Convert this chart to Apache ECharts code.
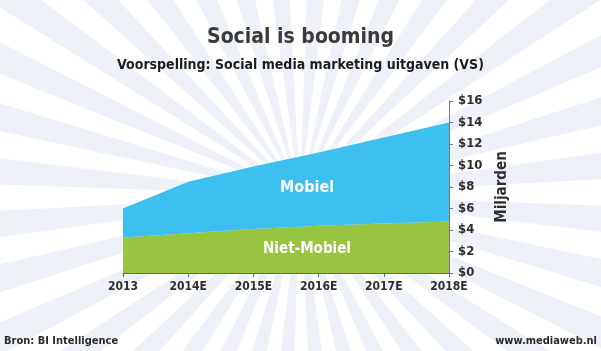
<!DOCTYPE html>
<html>
<head>
<meta charset="utf-8">
<style>
  html, body { margin: 0; padding: 0; background: #fff; }
  #chart { width: 601px; height: 351px; }
</style>
<script src="https://cdn.jsdelivr.net/npm/echarts@6/dist/echarts.min.js"></script>
</head>
<body>
<div id="chart"></div>
<script>
const years = ["2013", "2014E", "2015E", "2016E", "2017E", "2018E"];
const nietMobiel = [3.3, 3.7, 4.1, 4.4, 4.6, 4.8];
const mobiel = [2.7, 4.8, 5.8, 6.8, 8.0, 9.2];
const yTicks = [0, 2, 4, 6, 8, 10, 12, 14, 16];

const font = "'DejaVu Sans Condensed', sans-serif";

// sunburst background rays
function rays(cx, cy) {
  const out = [];
  const r = 900;
  for (let i = 0; i < 36; i++) {
    const a0 = (i * 10 + 2) * Math.PI / 180;
    const a1 = a0 + 5 * Math.PI / 180;
    out.push({
      type: "polygon",
      silent: true,
      z: -10,
      shape: {
        points: [
          [cx, cy],
          [cx + r * Math.cos(a0), cy + r * Math.sin(a0)],
          [cx + r * Math.cos(a1), cy + r * Math.sin(a1)],
        ],
      },
      style: { fill: "#eef2f8" },
    });
  }
  return out;
}

const chart = echarts.init(document.getElementById("chart"));

chart.setOption({
  backgroundColor: "#ffffff",
  animation: false,
  title: [
    {
      text: "Social is booming",
      left: "center",
      top: 22,
      textStyle: { fontFamily: font, fontWeight: "bold", fontSize: 21, color: "#3a3a3a" },
    },
    {
      text: "Voorspelling: Social media marketing uitgaven (VS)",
      left: "center",
      top: 53,
      textStyle: { fontFamily: font, fontWeight: "bold", fontSize: 14, color: "#1c1c1c" },
    },
  ],
  grid: { left: 123, right: 152, top: 101, bottom: 78 },
  xAxis: {
    type: "category",
    data: years,
    boundaryGap: false,
    axisLine: { lineStyle: { color: "#666", width: 1 } },
    axisTick: { length: 4, lineStyle: { color: "#666" } },
    axisLabel: {
      margin: 8,
      fontFamily: font,
      fontWeight: "bold",
      fontSize: 12,
      color: "#2e2e2e",
    },
  },
  yAxis: {
    type: "value",
    position: "right",
    min: 0,
    max: 16,
    interval: 2,
    splitLine: { show: false },
    axisLine: { show: true, lineStyle: { color: "#777", width: 1 } },
    axisTick: { show: true, length: 4, lineStyle: { color: "#777" } },
    axisLabel: {
      margin: 9,
      fontFamily: font,
      fontWeight: "bold",
      fontSize: 13,
      color: "#2e2e2e",
      formatter: (v) => (yTicks.includes(v) ? "$" + v : ""),
    },
    name: "Miljarden",
    nameLocation: "middle",
    nameRotate: 90,
    nameGap: 46,
    nameTextStyle: { fontFamily: font, fontWeight: "bold", fontSize: 15, color: "#2e2e2e" },
  },
  series: [
    {
      name: "Niet-Mobiel",
      type: "line",
      stack: "total",
      data: nietMobiel,
      symbol: "none",
      lineStyle: { width: 0 },
      areaStyle: { color: "#97c53f", opacity: 1 },
    },
    {
      name: "Mobiel",
      type: "line",
      stack: "total",
      data: mobiel,
      symbol: "none",
      lineStyle: { width: 0 },
      areaStyle: { color: "#3dbfef", opacity: 1 },
    },
  ],
  graphic: [
    ...rays(300, 195),
    {
      type: "text",
      z: 10,
      style: {
        text: "Mobiel",
        x: 307, y: 188,
        align: "center", verticalAlign: "middle",
        font: "bold 16px " + font,
        fill: "#ffffff",
      },
    },
    {
      type: "text",
      z: 10,
      style: {
        text: "Niet-Mobiel",
        x: 307, y: 249,
        align: "center", verticalAlign: "middle",
        font: "bold 15px " + font,
        fill: "#ffffff",
      },
    },
    {
      type: "text",
      z: 10,
      style: {
        text: "Bron: BI Intelligence",
        x: 4, y: 341,
        verticalAlign: "middle",
        font: "bold 11px " + font,
        fill: "#2a2a2a",
      },
    },
    {
      type: "text",
      z: 10,
      style: {
        text: "www.mediaweb.nl",
        x: 597, y: 341,
        align: "right", verticalAlign: "middle",
        font: "bold 11px " + font,
        fill: "#2a2a2a",
      },
    },
  ],
});
</script>
</body>
</html>
